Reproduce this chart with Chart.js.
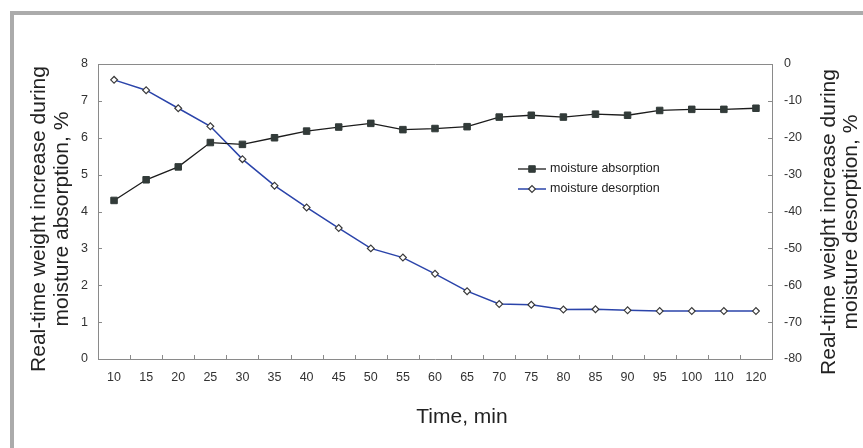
<!DOCTYPE html>
<html>
<head>
<meta charset="utf-8">
<script src="https://cdn.jsdelivr.net/npm/chart.js@4/dist/chart.umd.min.js"></script>
<style>
  html, body { margin: 0; padding: 0; background: #fff; }
  canvas { display: block; }
</style>
</head>
<body>
<canvas id="c" width="863" height="448"></canvas>
<script>
const categories = ['10','15','20','25','30','35','40','45','50','55','60','65','70','75','80','85','90','95','100','110','120'];
const absorption = [4.3, 4.86, 5.21, 5.87, 5.82, 6.0, 6.18, 6.29, 6.39, 6.22, 6.25, 6.30, 6.56, 6.61, 6.56, 6.64, 6.61, 6.74, 6.77, 6.77, 6.80];
const desorption = [-4.3, -7.1, -12.0, -16.9, -25.8, -33.0, -38.9, -44.5, -50.0, -52.5, -56.9, -61.6, -65.1, -65.3, -66.6, -66.5, -66.8, -67.0, -67.0, -67.0, -67.0];
const seriesNames = ['moisture absorption', 'moisture desorption'];
const leftTitle = ['Real-time weight increase during', 'moisture absorption, %'];
const rightTitle = ['Real-time weight increase during', 'moisture desorption, %'];
const xTitle = 'Time, min';

const FONT = '"Liberation Sans", Arial, Helvetica, sans-serif';
const AXIS = '#8a8a8a';

const decor = {
  id: 'decor',
  beforeDraw(chart) {
    const ctx = chart.ctx;
    ctx.save();
    ctx.fillStyle = '#ababab';
    ctx.fillRect(10, 11, 853, 4);
    ctx.fillRect(10, 11, 4, 437);
    ctx.restore();
  },
  afterDraw(chart) {
    const ctx = chart.ctx;
    const a = chart.chartArea;
    const x = chart.scales.x, y = chart.scales.y, y1 = chart.scales.y1;
    ctx.save();
    ctx.strokeStyle = AXIS;
    ctx.lineWidth = 1;
    // top border
    ctx.beginPath();
    ctx.moveTo(Math.round(a.left) + 0.5, Math.round(a.top) + 0.5);
    ctx.lineTo(Math.round(a.right) + 0.5, Math.round(a.top) + 0.5);
    ctx.stroke();
    // inward ticks
    ctx.beginPath();
    y.ticks.forEach(t => {
      const py = Math.round(y.getPixelForValue(t.value)) + 0.5;
      ctx.moveTo(a.left, py); ctx.lineTo(a.left + 4, py);
    });
    y1.ticks.forEach(t => {
      const py = Math.round(y1.getPixelForValue(t.value)) + 0.5;
      ctx.moveTo(a.right - 4, py); ctx.lineTo(a.right, py);
    });
    for (let i = 1; i < categories.length; i++) {
      const px = Math.round((x.getPixelForValue(i - 1) + x.getPixelForValue(i)) / 2) + 0.5;
      ctx.moveTo(px, a.bottom); ctx.lineTo(px, a.bottom - 4);
    }
    ctx.stroke();

    // titles
    ctx.fillStyle = '#222';
    ctx.font = '21px ' + FONT;
    ctx.textAlign = 'center';
    ctx.textBaseline = 'alphabetic';
    ctx.fillText(xTitle, 462, 423);

    const drawRot = (lines, xs, cy) => {
      lines.forEach((ln, i) => {
        ctx.save();
        ctx.translate(xs[i], cy);
        ctx.rotate(-Math.PI / 2);
        ctx.fillText(ln, 0, 0);
        ctx.restore();
      });
    };
    drawRot(leftTitle, [45, 68], 219);
    drawRot(rightTitle, [835, 857], 222);

    // legend
    ctx.font = '12.5px ' + FONT;
    ctx.textAlign = 'left';
    ctx.textBaseline = 'middle';
    chart.data.datasets.forEach((ds, i) => {
      const ly = 169 + i * 20;
      ctx.strokeStyle = ds.borderColor;
      ctx.lineWidth = ds.borderWidth;
      ctx.beginPath();
      ctx.moveTo(518, ly); ctx.lineTo(546, ly);
      ctx.stroke();
      ctx.fillStyle = ds.pointBackgroundColor;
      ctx.strokeStyle = ds.pointBorderColor;
      ctx.lineWidth = ds.pointBorderWidth;
      Chart.helpers.drawPoint(ctx, {
        pointStyle: ds.pointStyle,
        radius: ds.pointRadius,
        borderWidth: ds.pointBorderWidth,
        rotation: 0
      }, 532, ly);
      ctx.fillStyle = '#222';
      ctx.fillText(ds.label, 550, ly);
    });
    ctx.restore();
  }
};

new Chart(document.getElementById('c'), {
  type: 'line',
  data: {
    labels: categories,
    datasets: [
      {
        label: seriesNames[0],
        data: absorption,
        yAxisID: 'y',
        borderColor: '#1c1c1c',
        borderWidth: 1.3,
        pointStyle: 'rect',
        pointRadius: 4.6,
        pointBackgroundColor: '#323b39',
        pointBorderColor: '#323b39',
        pointBorderWidth: 1,
        tension: 0
      },
      {
        label: seriesNames[1],
        data: desorption,
        yAxisID: 'y1',
        borderColor: '#2b44aa',
        borderWidth: 1.5,
        pointStyle: 'rectRot',
        pointRadius: 3.4,
        pointBackgroundColor: '#ffffff',
        pointBorderColor: '#3a3a3a',
        pointBorderWidth: 1.2,
        tension: 0
      }
    ]
  },
  options: {
    responsive: false,
    devicePixelRatio: 1,
    animation: false,
    layout: { padding: { top: 64, left: 0, right: 0, bottom: 0 } },
    plugins: { legend: { display: false }, tooltip: { enabled: false } },
    scales: {
      x: {
        type: 'category',
        offset: true,
        grid: { display: true, drawOnChartArea: false, drawTicks: false },
        border: { display: true, color: AXIS, width: 1 },
        ticks: { color: '#333', font: { family: FONT, size: 12.5 }, padding: 11, maxRotation: 0, autoSkip: false },
        afterFit: s => { s.height = 89; }
      },
      y: {
        position: 'left',
        min: 0, max: 8,
        grid: { display: true, drawOnChartArea: false, drawTicks: false },
        border: { display: true, color: AXIS, width: 1 },
        ticks: { stepSize: 1, color: '#333', font: { family: FONT, size: 12.5 }, padding: 10 },
        afterFit: s => { s.width = 98; }
      },
      y1: {
        position: 'right',
        min: -80, max: 0,
        grid: { display: true, drawOnChartArea: false, drawTicks: false },
        border: { display: true, color: AXIS, width: 1 },
        ticks: { stepSize: 10, color: '#333', font: { family: FONT, size: 12.5 }, padding: 12 },
        afterFit: s => { s.width = 91; }
      }
    }
  },
  plugins: [decor]
});
</script>
</body>
</html>
